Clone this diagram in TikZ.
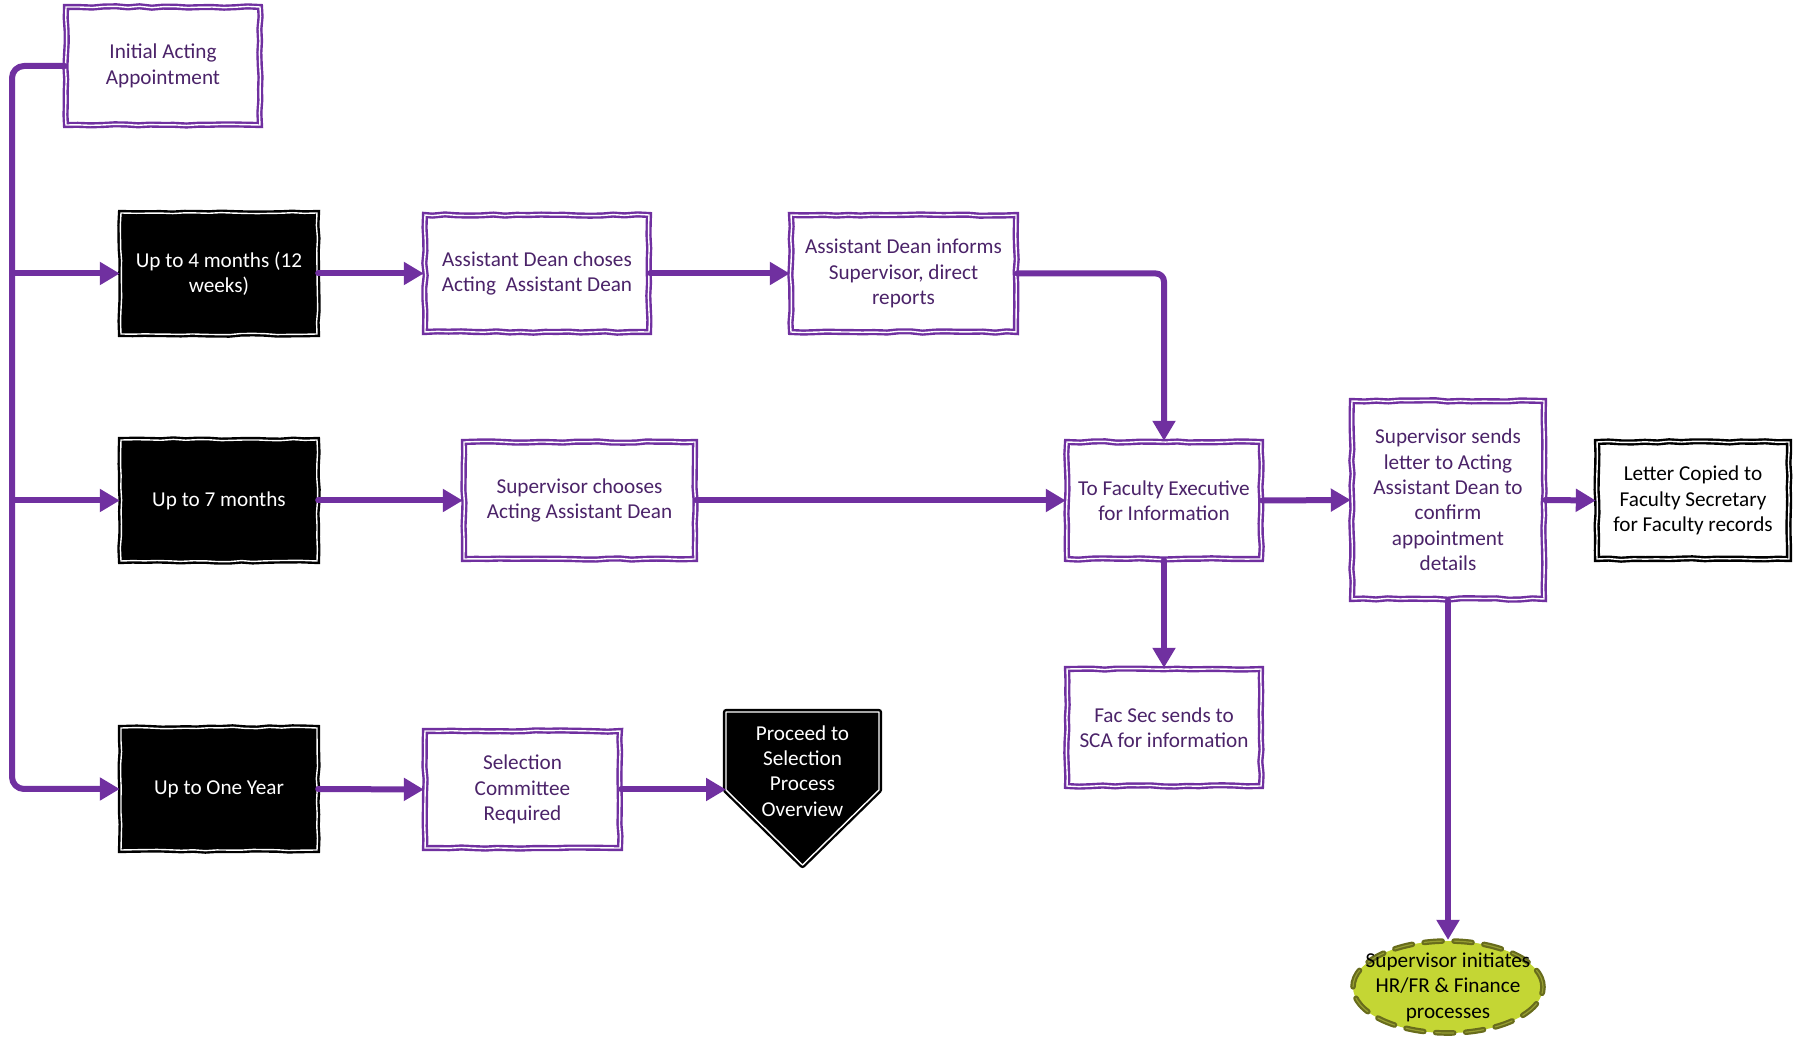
\documentclass[tikz,border=0pt]{standalone}
\usepackage{fontspec}
\setmainfont{Carlito}
\usetikzlibrary{arrows.meta,decorations.pathmorphing,shapes.geometric}

\definecolor{vline}{RGB}{112,48,160}
\definecolor{vtext}{RGB}{75,35,105}
\definecolor{limefill}{RGB}{196,214,52}
\definecolor{olivedark}{RGB}{104,108,28}
\definecolor{olivemid}{RGB}{150,158,50}

\begin{document}
\pgfmathsetseed{7}
\begin{tikzpicture}[x=0.5pt,y=-0.5pt,
  sketch/.style={decorate,decoration={random steps,segment length=6pt,amplitude=0.35pt}},
  txt/.style={align=center,font=\fontsize{10.6}{12.7}\selectfont,inner sep=0pt},
  pbox/.style={txt,draw=vline,line width=1.2pt,double=white,double distance=0.7pt,
    fill=white,text=vtext,sketch},
  kbox/.style={txt,draw=black,line width=1.2pt,double=white,double distance=0.7pt,
    fill=black,text=white,sketch},
  wbox/.style={txt,draw=black,line width=1.2pt,double=white,double distance=0.7pt,
    fill=white,text=black,sketch},
  conn/.style={draw=vline,line width=3pt,line cap=round,line join=round},
  arr/.style={conn,-{Triangle[length=10pt,width=11pt]}}
]
\useasboundingbox (0,0) rectangle (1796,1037);

% --- boxes ---
\node[pbox,minimum width=97pt,minimum height=59pt] (init) at (163,66) {Initial Acting\\Appointment};

\node[kbox,minimum width=98pt,minimum height=60.5pt] (four) at (219,273.5) {Up to 4 months (12\\weeks)};
\node[pbox,minimum width=112pt,minimum height=58.5pt] (adc) at (537,273.5) {Assistant Dean choses\\Acting\ \ Assistant Dean};
\node[pbox,minimum width=112.5pt,minimum height=58.5pt] (adi) at (903.5,273.5) {Assistant Dean informs\\Supervisor, direct\\reports};

\node[kbox,minimum width=98pt,minimum height=60.5pt] (seven) at (219,500.5) {Up to 7 months};
\node[pbox,minimum width=115.5pt,minimum height=58.5pt] (supch) at (579.5,500.5) {Supervisor chooses\\Acting Assistant Dean};
\node[pbox,minimum width=97pt,minimum height=58.5pt] (facex) at (1164,500.5) {To Faculty Executive\\for Information};
\node[pbox,minimum width=96pt,minimum height=99pt] (supsend) at (1448,500) {Supervisor sends\\letter to Acting\\Assistant Dean to\\confirm\\appointment\\details};
\node[wbox,minimum width=96pt,minimum height=58.5pt] (letter) at (1693,500.5) {Letter Copied to\\Faculty Secretary\\for Faculty records};
\node[pbox,minimum width=97pt,minimum height=58.5pt] (facsec) at (1164,727.5) {Fac Sec sends to\\SCA for information};

\node[kbox,minimum width=98pt,minimum height=61pt] (year) at (219,789) {Up to One Year};
\node[pbox,minimum width=97.5pt,minimum height=58.5pt] (selcom) at (522.5,789.5) {Selection\\Committee\\Required};

% pentagon pointing down
\draw[draw=black,line width=1.2pt,double=white,double distance=0.7pt,fill=black,
  line join=round]
  (726,712) -- (879,712) -- (879,790) -- (802.5,865) -- (726,790) -- cycle;
\node[txt,text=white] (proceed) at (802.5,771) {Proceed to\\Selection\\Process\\Overview};
\coordinate (procin) at (726,789);

% ellipse, fixed size, text laid over it
\node[ellipse,inner sep=0pt,fill=limefill,draw=olivedark,line width=1.1pt,double=olivemid,
  double distance=0.6pt,dash pattern=on 9pt off 6pt,line cap=round,
  minimum width=95pt,minimum height=46pt] (hr) at (1448,987) {};
\node[txt,text=black] (hrtext) at (hr.center) {Supervisor initiates\\HR/FR \& Finance\\processes};

% --- connectors ---
\coordinate (trunk) at (12,66);
\draw[arr,rounded corners=6pt] (init.west) -| (trunk |- year.west) -- (year.west);
\draw[arr] (trunk |- four.west) -- (four.west);
\draw[arr] (trunk |- seven.west) -- (seven.west);

\draw[arr] (four.east) -- (adc.west);
\draw[arr] (adc.east) -- (adi.west);
\draw[arr,rounded corners=4pt] (adi.east) -| (facex.north);

\draw[arr] (seven.east) -- (supch.west);
\draw[arr] (supch.east) -- (facex.west);
\draw[arr] (facex.east) -- (supsend.west);
\draw[arr] (supsend.east) -- (letter.west);
\draw[arr] (facex.south) -- (facsec.north);
\draw[arr] (supsend.south) -- (hr.north);

\draw[arr] (year.east) -- (selcom.west);
\draw[arr] (selcom.east) -- (selcom.east -| procin);
\end{tikzpicture}
\end{document}
